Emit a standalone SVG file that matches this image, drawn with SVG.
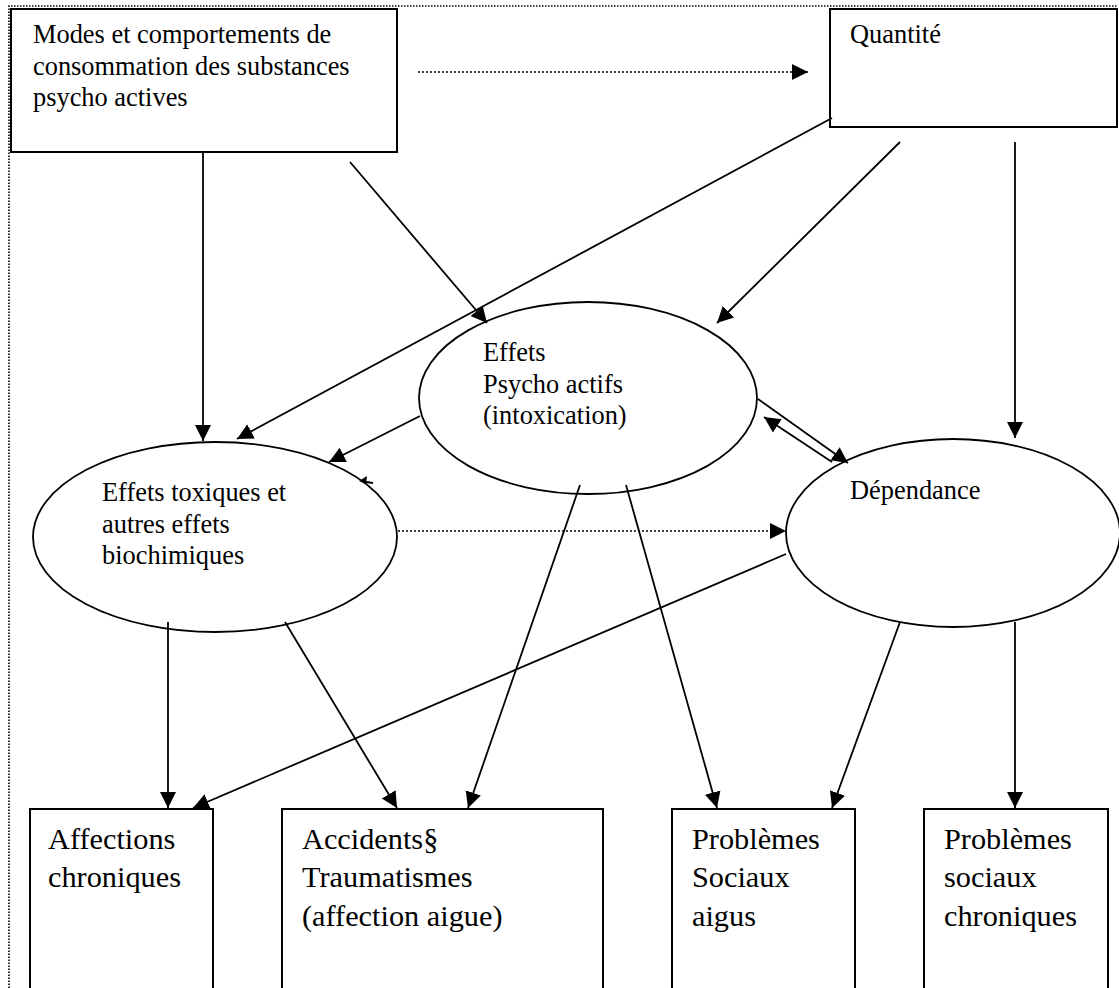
<svg xmlns="http://www.w3.org/2000/svg" width="1119" height="988" viewBox="0 0 1119 988">
  <style>
    .box { fill: #fff; stroke: #000; stroke-width: 2; }
    .ell { fill: #fff; stroke: #000; stroke-width: 1.8; }
    .t { font-family: "Liberation Serif", "Times New Roman", serif; font-size: 26.4px; fill: #000; }
    .tb { font-family: "Liberation Serif", "Times New Roman", serif; font-size: 30.3px; fill: #000; }
    .ln { fill: none; stroke: #000; stroke-width: 1.8; }
    .dot { fill: none; stroke: #000; stroke-width: 1.6; stroke-dasharray: 2 2; }
    .frame { fill: none; stroke: #000; stroke-width: 1.6; stroke-dasharray: 1.5 1.5; }
  </style>
  <defs>
    <marker id="arr" markerUnits="userSpaceOnUse" markerWidth="18" markerHeight="18" viewBox="0 -9 18 18" refX="16" refY="0" orient="auto">
      <path d="M0,-8 L16,0 L0,8 z" fill="#000"/>
    </marker>
  </defs>
  <rect width="1119" height="988" fill="#fff"/>

  <!-- dotted outer frame -->
  <path class="frame" d="M9,988 V6 H1117"/>

  <g id="modes">
    <rect class="box" x="11" y="9" width="386" height="143"/>
    <text class="t" x="33" y="43">Modes et comportements de</text>
    <text class="t" x="33" y="75">consommation des substances</text>
    <text class="t" x="33" y="106">psycho actives</text>
  </g>

  <g id="quantite">
    <rect class="box" x="830" y="9" width="287" height="118"/>
    <text class="t" x="850" y="43">Quantité</text>
  </g>

  <g id="effets">
    <ellipse class="ell" cx="588" cy="398" rx="169" ry="96"/>
    <text class="t" x="483" y="361">Effets</text>
    <text class="t" x="483" y="393">Psycho actifs</text>
    <text class="t" x="483" y="424">(intoxication)</text>
  </g>

  <g id="toxiques">
    <ellipse class="ell" cx="215" cy="537" rx="182" ry="95"/>
    <text class="t" x="102" y="501">Effets toxiques et</text>
    <text class="t" x="102" y="533">autres effets</text>
    <text class="t" x="102" y="564">biochimiques</text>
  </g>

  <g id="dependance">
    <ellipse class="ell" cx="953" cy="533" rx="167" ry="94"/>
    <text class="t" x="850" y="499">Dépendance</text>
  </g>

  <g id="affections">
    <rect class="box" x="30" y="809" width="183" height="190"/>
    <text class="tb" x="48" y="849">Affections</text>
    <text class="tb" x="48" y="887">chroniques</text>
  </g>

  <g id="accidents">
    <rect class="box" x="282" y="809" width="321" height="190"/>
    <text class="tb" x="302" y="849">Accidents§</text>
    <text class="tb" x="302" y="887">Traumatismes</text>
    <text class="tb" x="302" y="926">(affection aigue)</text>
  </g>

  <g id="sociaux-aigus">
    <rect class="box" x="672" y="809" width="183" height="190"/>
    <text class="tb" x="692" y="849">Problèmes</text>
    <text class="tb" x="692" y="887">Sociaux</text>
    <text class="tb" x="692" y="926">aigus</text>
  </g>

  <g id="sociaux-chroniques">
    <rect class="box" x="924" y="809" width="184" height="190"/>
    <text class="tb" x="944" y="849">Problèmes</text>
    <text class="tb" x="944" y="887">sociaux</text>
    <text class="tb" x="944" y="926">chroniques</text>
  </g>

  <g id="connectors">
    <line class="dot" x1="418" y1="72" x2="808" y2="72" marker-end="url(#arr)"/>
    <line class="ln" x1="203" y1="152" x2="203" y2="441" marker-end="url(#arr)"/>
    <line class="ln" x1="350" y1="162" x2="487" y2="323" marker-end="url(#arr)"/>
    <line class="ln" x1="832" y1="118" x2="237" y2="439" marker-end="url(#arr)"/>
    <line class="ln" x1="900" y1="142" x2="717" y2="323" marker-end="url(#arr)"/>
    <line class="ln" x1="1015" y1="142" x2="1015" y2="438" marker-end="url(#arr)"/>
    <line class="ln" x1="420" y1="416" x2="329" y2="462" marker-end="url(#arr)"/>
    <path d="M359,481 L367,476 L366,484 z" fill="#000"/>
    <line class="ln" x1="366" y1="482" x2="373" y2="483"/>
    <line class="ln" x1="758" y1="399" x2="848" y2="463" marker-end="url(#arr)"/>
    <line class="ln" x1="832" y1="462" x2="764" y2="417" marker-end="url(#arr)"/>
    <line class="dot" x1="398" y1="531" x2="786" y2="531" marker-end="url(#arr)"/>
    <line class="ln" x1="580" y1="485" x2="468" y2="808" marker-end="url(#arr)"/>
    <line class="ln" x1="626" y1="485" x2="717" y2="808" marker-end="url(#arr)"/>
    <line class="ln" x1="168" y1="622" x2="168" y2="808" marker-end="url(#arr)"/>
    <line class="ln" x1="285" y1="622" x2="397" y2="808" marker-end="url(#arr)"/>
    <line class="ln" x1="786" y1="554" x2="193" y2="808" marker-end="url(#arr)"/>
    <line class="ln" x1="900" y1="622" x2="832" y2="808" marker-end="url(#arr)"/>
    <line class="ln" x1="1015" y1="622" x2="1015" y2="808" marker-end="url(#arr)"/>
  </g>
</svg>
